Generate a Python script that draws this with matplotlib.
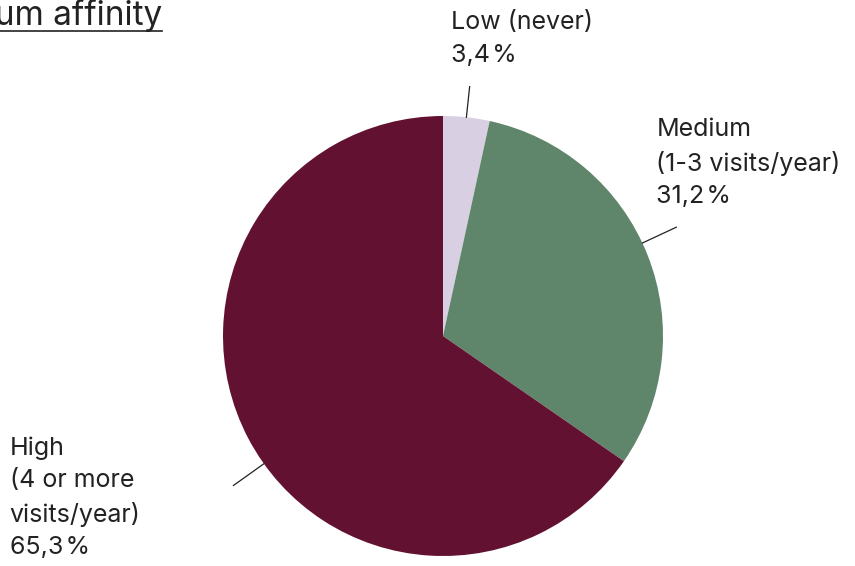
import numpy as np
import matplotlib
matplotlib.use("Agg")
from matplotlib import pyplot as plt
from matplotlib.lines import Line2D

# Data
categories = ["Low (never)", "Medium\n(1-3 visits/year)", "High\n(4 or more\nvisits/year)"]
shares = [3.4, 31.2, 65.3]
colors = ["#d8cfe3", "#5f866a", "#621230"]
title = "Museum affinity"

# Label layout: leader angle (deg), text anchor (data coords)
leader_angles = [83.9, 25.0, 215.5]
text_pos = [(0.036, 1.475), (0.97, 0.99), (-1.97, -0.455)]

plt.rcParams['font.family'] = ['Inter', 'DejaVu Sans']

W, H = 855, 566
fig = plt.figure(figsize=(W / 100, H / 100), dpi=100)

cx, cy, r = 443, 336, 220
ax = fig.add_axes([(cx - r) / W, (H - cy - r) / H, 2 * r / W, 2 * r / H])
ax.pie(shares, colors=colors, startangle=90, counterclock=False, radius=1,
       wedgeprops=dict(linewidth=0))
ax.set_xlim(-1, 1)
ax.set_ylim(-1, 1)
ax.set_aspect('equal')
ax.axis('off')

for cat, val, ang, (tx, ty) in zip(categories, shares, leader_angles, text_pos):
    a = np.deg2rad(ang)
    r2 = 1.14 if 60 < ang < 120 else 1.17
    ax.add_line(Line2D([np.cos(a), r2 * np.cos(a)], [np.sin(a), r2 * np.sin(a)],
                       color="#222222", lw=0.9, clip_on=False))
    label = cat + "\n" + f"{val:.1f}".replace(".", ",") + "\u200a%"
    ax.text(tx, ty, label, ha='left', va='top', fontsize=18, color="#222222",
            linespacing=1.5, clip_on=False)

# Title, cut off at the left edge, underlined
t = fig.text(162 / W, 1 - 25 / H, title, ha='right', va='baseline', fontsize=24, color="#222222")
fig.canvas.draw()
bb = t.get_window_extent(fig.canvas.get_renderer())
fig.add_artist(Line2D([bb.x0 / W, bb.x1 / W], [1 - 31 / H, 1 - 31 / H],
                      transform=fig.transFigure, color="#222222", lw=1.2))

fig.savefig("out.png", dpi=100)
